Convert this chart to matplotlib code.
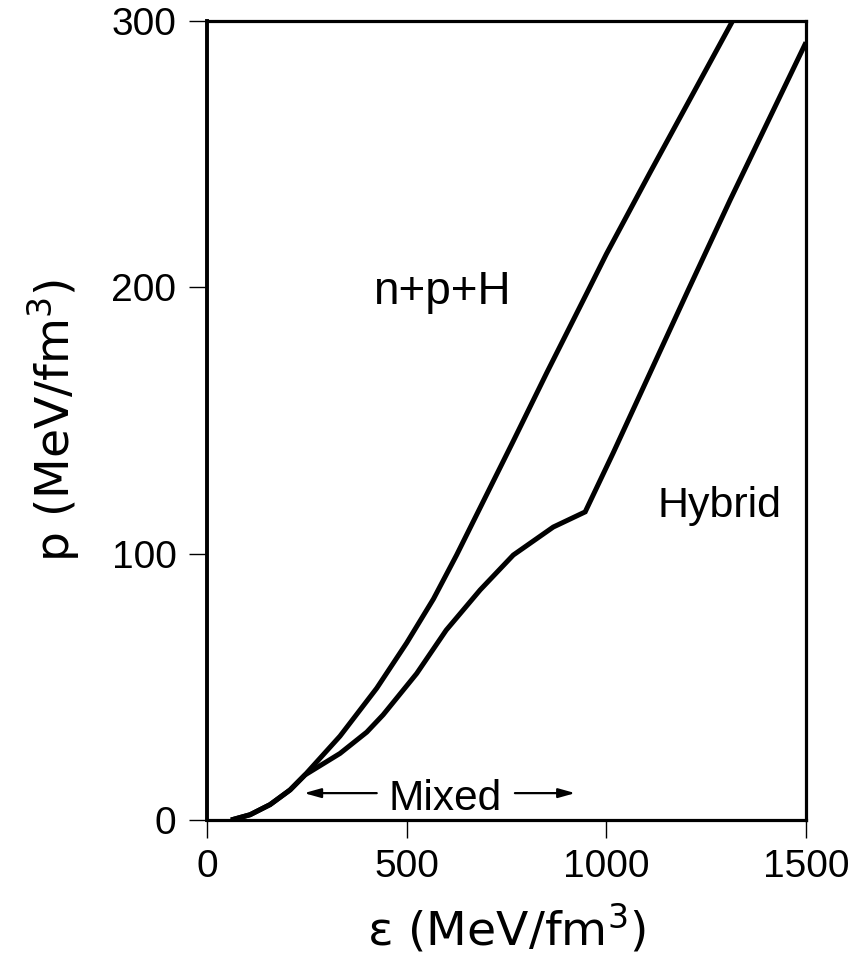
import matplotlib
matplotlib.use("Agg")
import matplotlib.pyplot as plt

plt.rcParams['font.family'] = ['Liberation Sans', 'DejaVu Sans']
plt.rcParams['mathtext.default'] = 'regular'

# Data
npH_eps = [60, 108, 158, 208, 245, 333, 425, 500, 567, 625, 766, 851, 955, 1000, 1109, 1316]
npH_p = [0, 2, 5.8, 11.3, 16.9, 31.5, 49.5, 66.5, 83, 99.5, 142, 168, 199, 212.5, 243, 300]

hyb_eps = [60, 108, 158, 208, 245, 333, 400, 441, 525, 599, 684, 767, 867, 947, 1017, 1205, 1310, 1500]
hyb_p = [0, 2, 5.8, 11.3, 16.9, 25, 33, 39.5, 55, 71.3, 86.4, 99.5, 110, 115.7, 137.8, 199, 232.8, 292]

mixed_left = [425, 243]    # tail, head (eps)
mixed_right = [771, 922]   # tail, head (eps)
mixed_p = 10.1
mixed_text_eps = 597

x_ticks = [0, 500, 1000, 1500]
y_ticks = [0, 100, 200, 300]

fig = plt.figure(figsize=(8.58, 9.61), dpi=100)
ax = fig.add_axes([0.2413, 0.1467, 0.6981, 0.8314])

ax.plot(npH_eps, npH_p, color='black', lw=3.6, solid_joinstyle='round', solid_capstyle='butt')
ax.plot(hyb_eps, hyb_p, color='black', lw=3.6, solid_joinstyle='miter', solid_capstyle='butt')

ax.set_xlim(0, 1500)
ax.set_ylim(0, 300)
ax.set_xticks(x_ticks)
ax.set_yticks(y_ticks)
ax.tick_params(direction='out', length=13, width=1.0, labelsize=28, pad=8)
ax.tick_params(axis='y', pad=9)

for side in ['left', 'bottom', 'top', 'right']:
    ax.spines[side].set_linewidth(2.3)
ax.spines['left'].set_linewidth(2.8)

ax.set_xlabel('ε (MeV/fm$^3$)', fontsize=34, labelpad=12, family=['DejaVu Sans'])
ax.set_ylabel('p (MeV/fm$^3$)', fontsize=34, labelpad=21, family=['DejaVu Sans'])

ax.text(589, 193.8, 'n+p+H', fontsize=33, ha='center', va='baseline')
ax.text(1284, 113.9, 'Hybrid', fontsize=31, ha='center', va='baseline')
ax.text(mixed_text_eps, 3.76, 'Mixed', fontsize=30.5, ha='center', va='baseline')

arrowprops = dict(arrowstyle='-|>,head_length=1.0,head_width=0.28', color='black', lw=1.6,
                  shrinkA=0, shrinkB=0)
ax.annotate('', xy=(mixed_left[1], mixed_p), xytext=(mixed_left[0], mixed_p), arrowprops=arrowprops)
ax.annotate('', xy=(mixed_right[1], mixed_p), xytext=(mixed_right[0], mixed_p), arrowprops=arrowprops)

fig.savefig('out.png', dpi=100)
